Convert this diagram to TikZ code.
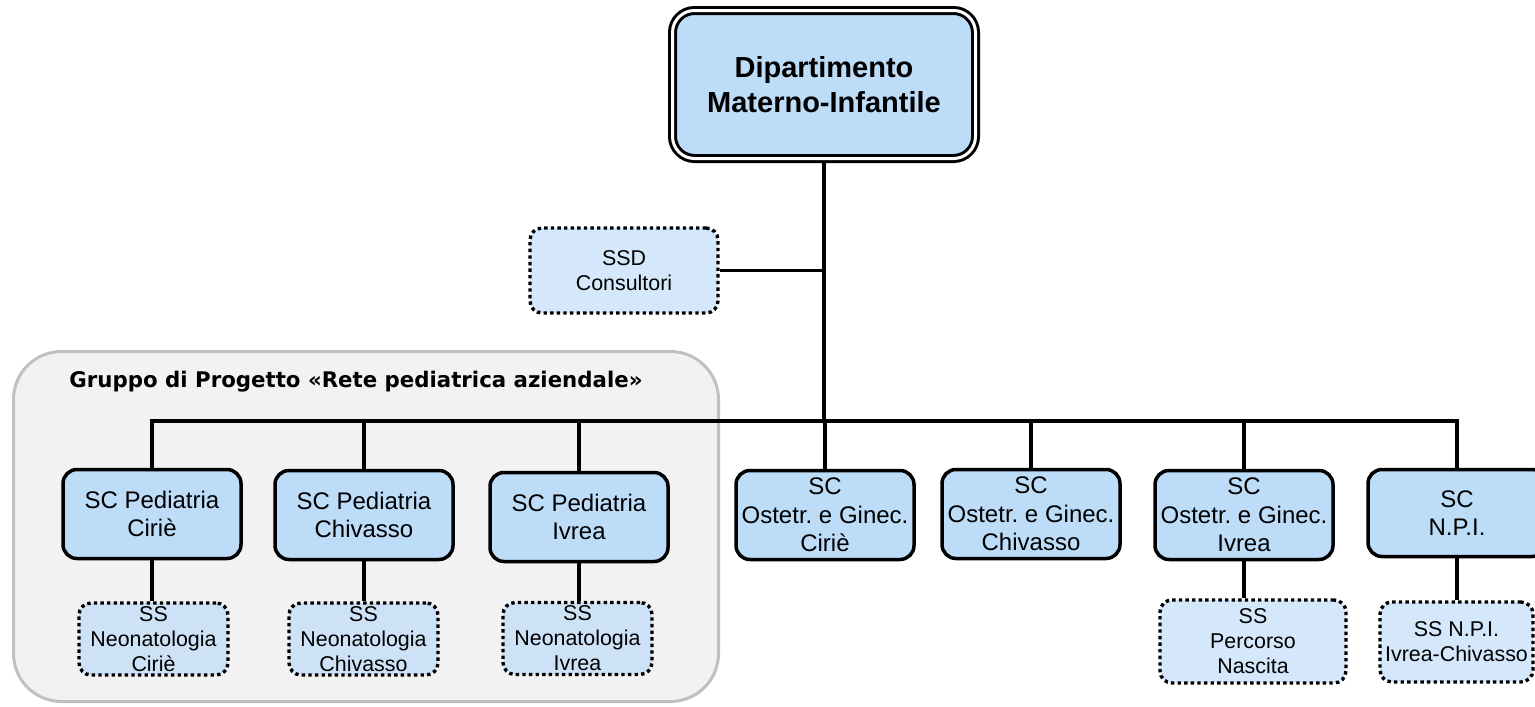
\documentclass[tikz,border=0pt]{standalone}
\usepackage{fontspec}
\setmainfont{Liberation Sans}
\newfontfamily\grpfont{DejaVu Sans}
\usepackage{graphicx}
\usetikzlibrary{backgrounds}
\definecolor{scblue}{HTML}{BDDCF8}
\definecolor{ssblue}{HTML}{D5E8FB}
\definecolor{ssblueg}{HTML}{CDE2F6}
\definecolor{grpfill}{HTML}{F2F2F2}
\definecolor{grpborder}{HTML}{C0C0C0}
\frenchspacing
\begin{document}
\begin{tikzpicture}[x=1pt,y=-1pt,
  conn/.style={line width=3.8pt},
  scbox/.style={draw, line width=3.5pt, rounded corners=14pt, fill=scblue, align=center,
    inner sep=0pt, minimum width=178pt, minimum height=89pt, font=\fontsize{24}{28.5}\selectfont},
  ssbox/.style={draw, line width=3.4pt, dash pattern=on 3.4pt off 3.2pt, rounded corners=12pt,
    fill=ssblue, align=center, inner sep=0pt, minimum width=149pt, minimum height=72pt,
    font=\fontsize{21.4}{25}\selectfont},
  topbox/.style={draw, line width=3pt, double=white, double distance=3pt, rounded corners=22pt,
    fill=scblue, align=center, inner sep=0pt, minimum width=303pt, minimum height=148pt,
    font=\bfseries\fontsize{29}{35}\selectfont},
  grpbox/.style={draw=grpborder, line width=3pt, fill=grpfill, rounded corners=48pt,
    inner sep=0pt, minimum width=705pt, minimum height=350pt},
  grptitle/.style={inner sep=0pt, anchor=base, font=\grpfont\bfseries\fontsize{21.5}{24}\selectfont}
]
\useasboundingbox (0,0) rectangle (1535,707);

% main nodes
\node[topbox] (dip) at (824,84.5) {Dipartimento\\Materno-Infantile};
\node[ssbox, minimum width=188pt, minimum height=85pt] (ssd) at (624,270.5) {SSD\\Consultori};

\node[scbox] (pedC)  at (152,514) {SC Pediatria\\Ciriè};
\node[scbox] (pedCh) at (364,515) {SC Pediatria\\Chivasso};
\node[scbox] (pedI)  at (579,517) {SC Pediatria\\Ivrea};
\node[scbox] (ostC)  at (825,515) {SC\\Ostetr. e Ginec.\\Ciriè};
\node[scbox] (ostCh) at (1031,514) {SC\\Ostetr. e Ginec.\\Chivasso};
\node[scbox] (ostI)  at (1244,515) {SC\\Ostetr. e Ginec.\\Ivrea};
\node[scbox, minimum height=87pt] (npi) at (1457,513) {SC\\N.P.I.};

\node[ssbox, fill=ssblueg] (neoC)  at (153.5,639) {SS\\Neonatologia\\Ciriè};
\node[ssbox, fill=ssblueg] (neoCh) at (363.5,639) {SS\\Neonatologia\\Chivasso};
\node[ssbox, fill=ssblueg] (neoI)  at (577.5,638.5) {SS\\Neonatologia\\Ivrea};
\node[ssbox, minimum width=186pt, minimum height=83pt] (perc) at (1253,641.5) {SS\\Percorso\\Nascita};
\node[ssbox, minimum width=153pt, minimum height=80pt] (npiss) at (1456.5,642) {SS N.P.I.\\Ivrea-Chivasso};

\node[grptitle] (gtitle) at (356,387) {\resizebox{573pt}{\height}{Gruppo di Progetto «Rete pediatrica aziendale»}};

\coordinate (bus) at (0,421);

\begin{pgfonlayer}{background}
  \node[grpbox] (grp) at (366,526.5) {};
  \draw[conn, line cap=rect] (pedC.north |- bus) -- (npi.north |- bus);
  \draw[conn] (dip.south) -- (dip.south |- bus);
  \draw[conn] (ssd.east) -- (ssd.east -| dip.south);
  \foreach \c in {pedC,pedCh,pedI,ostC,ostCh,ostI,npi}
    \draw[conn] (\c.north) -- (\c.north |- bus);
  \draw[conn] (pedC.south) -- (pedC.south |- neoC.north);
  \draw[conn] (pedCh.south) -- (pedCh.south |- neoCh.north);
  \draw[conn] (pedI.south) -- (pedI.south |- neoI.north);
  \draw[conn] (ostI.south) -- (ostI.south |- perc.north);
  \draw[conn] (npi.south) -- (npi.south |- npiss.north);
\end{pgfonlayer}
\end{tikzpicture}
\end{document}
